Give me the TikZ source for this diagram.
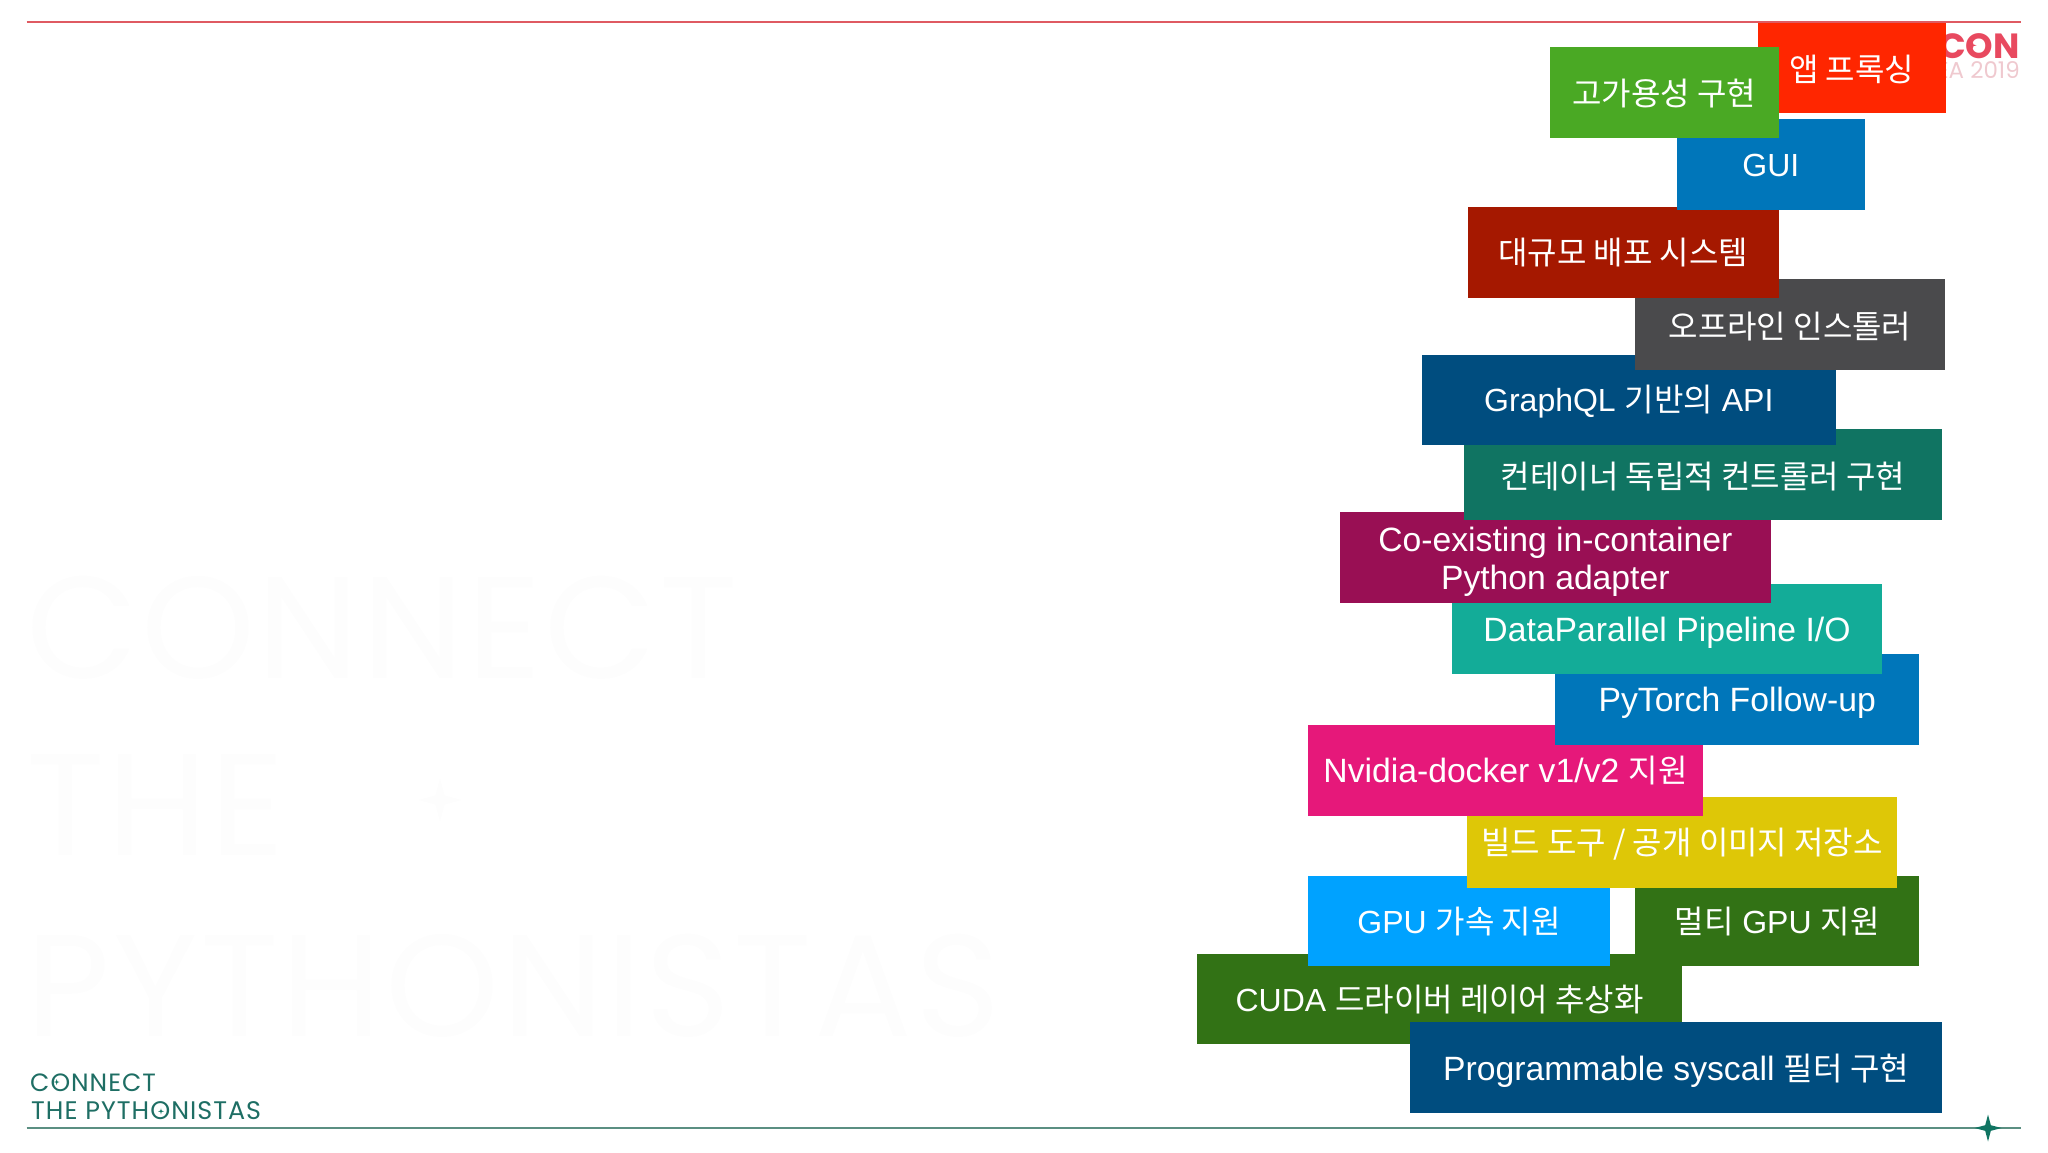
\documentclass[tikz,border=0pt]{standalone}
\usepackage{fontspec}
\setmainfont{Liberation Sans}
\newfontfamily\kofont{Noto Sans CJK KR}
\newfontfamily\logofont{Poppins}
\newfontfamily\footfont[LetterSpace=4]{Poppins}
\newfontfamily\ghostfont[LetterSpace=2]{Poppins}
\newcommand{\ko}[1]{{\kofont\fontsize{32}{39}\selectfont #1}}
\usetikzlibrary{shapes.geometric}

\definecolor{appred}{HTML}{FF2600}
\definecolor{hagreen}{HTML}{4AA924}
\definecolor{guiblue}{HTML}{0076BA}
\definecolor{darkred}{HTML}{A51800}
\definecolor{slategray}{HTML}{4A4A4C}
\definecolor{navyblue}{HTML}{004D7F}
\definecolor{deepteal}{HTML}{107462}
\definecolor{plum}{HTML}{990F54}
\definecolor{seateal}{HTML}{13AC98}
\definecolor{hotpink}{HTML}{E6187A}
\definecolor{mustard}{HTML}{DEC707}
\definecolor{skyblue}{HTML}{00A2FF}
\definecolor{leafgreen}{HTML}{327215}
\definecolor{logored}{HTML}{E8495F}
\definecolor{logopale}{HTML}{EFC9CF}
\definecolor{topline}{HTML}{DF5A62}
\definecolor{bottomline}{HTML}{5B8F82}
\definecolor{footteal}{HTML}{1E6E64}
\definecolor{ghost}{HTML}{FDFDFD}

\tikzset{
  tagbox/.style={rectangle,inner sep=0pt,minimum height=90.7pt,text=white,align=center,
    text height=30pt,text depth=5.4pt,font=\fontsize{32}{38}\selectfont},
  kotag/.style={text height=32.6pt},
  longlatin/.style={font=\fontsize{33.7}{38}\selectfont},
  twolines/.style={longlatin,text height=,text depth=},
  footer/.style={anchor=base west,inner sep=0pt,text height=17pt,text depth=0pt,text=footteal,
    font=\footfont\fontsize{25}{25}\selectfont},
  ghosttext/.style={anchor=base west,inner sep=0pt,text=ghost,font=\ghostfont\fontsize{145}{145}\selectfont},
  spark/.style={star,star points=4,star point ratio=3.4,inner sep=0pt,fill=deepteal},
}

\begin{document}
\begin{tikzpicture}[x=1pt,y=-1pt]
\useasboundingbox (0,0) rectangle (2048,1152);

\node[ghosttext] (wma) at (26,678) {CONNECT};
\node[ghosttext] (wmb) at (26,855) {THE};
\node[ghosttext] (wmc) at (26,1036) {PYTHONISTAS};
\node[spark,fill=ghost,minimum size=44pt] (wmspark) at (440,800) {};

\node[anchor=base east,inner sep=0pt,text height=25pt,text depth=0pt,text=logored,
  font=\logofont\bfseries\fontsize{35}{35}\selectfont] (logoa) at (2020,58) {CON};
\node[anchor=base east,inner sep=0pt,text height=16pt,text depth=0pt,text=logopale,
  font=\logofont\fontsize{23}{23}\selectfont] (logob) at (2020,78) {EA 2019};
\node[spark,fill=logored,minimum size=8pt] (logospark) at (1972.6,45.3) {};

\coordinate (tl) at (26.7,22);
\coordinate (tr) at (2021,22);
\coordinate (bl) at (26.7,1128);
\coordinate (br) at (2020.7,1128);
\draw[topline,line width=2pt] (tl) -- (tr);
\draw[bottomline,line width=2pt] (bl) -- (br);
\node[spark,minimum size=27pt] (sparkend) at (1988,1128) {};

\node[footer] (foota) at (30,1091) {CONNECT};
\node[footer,font=\footfont\fontsize{25.4}{25}\selectfont] (footb) at (31,1119) {THE PYTHONISTAS};
\node[spark,minimum size=6pt] (footsparka) at (56.7,1082) {};
\node[spark,minimum size=6pt] (footsparkb) at (161,1111.3) {};

\node[tagbox,fill=leafgreen,minimum width=484.6pt] (cuda) at (1439.7,999) {CUDA \ko{드라이버 레이어 추상화}};
\node[tagbox,longlatin,fill=navyblue,minimum width=531.4pt] (syscall) at (1676,1067.7) {Programmable syscall \ko{필터 구현}};
\node[tagbox,fill=leafgreen,minimum width=284pt] (multigpu) at (1777,921) {\ko{멀티} GPU \ko{지원}};
\node[tagbox,fill=skyblue,minimum width=302pt] (gpu) at (1459,921) {GPU \ko{가속 지원}};
\node[tagbox,fill=mustard,minimum width=430pt] (build) at (1682,842.3) {\ko{빌드 도구 / 공개 이미지 저장소}};
\node[tagbox,longlatin,fill=hotpink,minimum width=395pt] (nvidia) at (1505.5,770.4) {Nvidia-docker v1/v2 \ko{지원}};
\node[tagbox,longlatin,fill=guiblue,minimum width=363.6pt] (pytorch) at (1737.2,699.5) {PyTorch Follow-up};
\node[tagbox,longlatin,fill=seateal,minimum width=430pt] (dataio) at (1667,628.9) {DataParallel Pipeline I/O};
\node[tagbox,twolines,fill=plum,minimum width=430.6pt] (adapter) at (1555.3,557.5) {\rule{0pt}{32pt}Co-existing in-container\\Python adapter};
\node[tagbox,kotag,fill=deepteal,minimum width=478pt] (runtime) at (1703,474.6) {\ko{컨테이너 독립적 컨트롤러 구현}};
\node[tagbox,text height=28pt,fill=navyblue,minimum width=413.5pt] (graphql) at (1628.8,399.9) {GraphQL \ko{기반의} API};
\node[tagbox,kotag,fill=slategray,minimum width=310pt] (offline) at (1790,324.4) {\ko{오프라인 인스톨러}};
\node[tagbox,fill=darkred,minimum width=311.4pt] (deploy) at (1623.3,252.3) {\ko{대규모 배포 시스템}};
\node[tagbox,fill=guiblue,minimum width=187.6pt] (gui) at (1770.8,164.3) {GUI};
\node[tagbox,kotag,fill=appred,minimum width=187.6pt] (app) at (1851.8,68) {\ko{앱 프록싱}};
\node[tagbox,kotag,fill=hagreen,minimum width=228.6pt] (ha) at (1664.3,92.2) {\ko{고가용성 구현}};
\end{tikzpicture}
\end{document}
